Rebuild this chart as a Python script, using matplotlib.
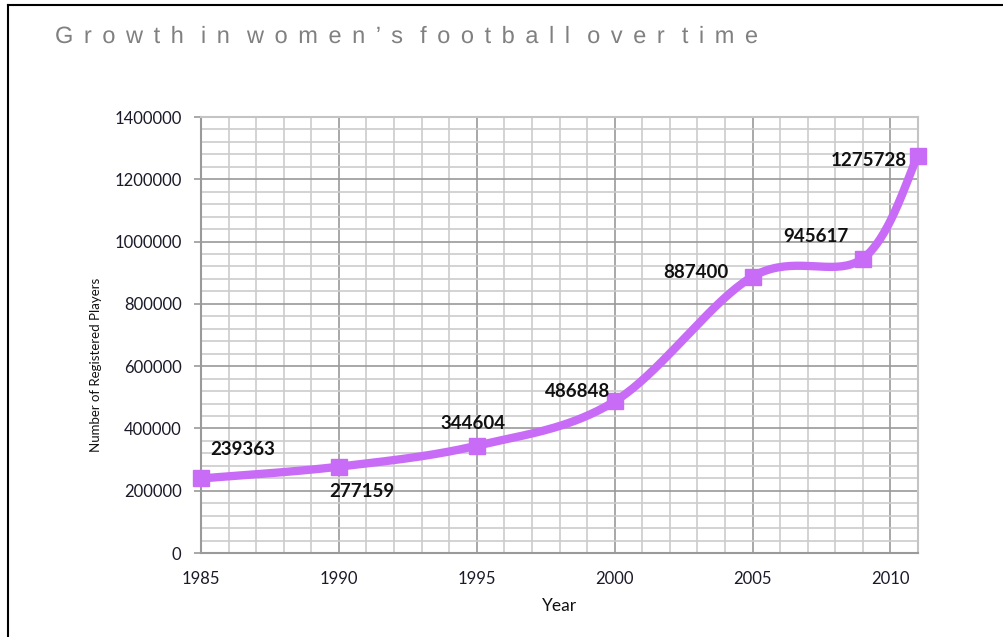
import numpy as np
import matplotlib
matplotlib.use("Agg")
import matplotlib.pyplot as plt
from matplotlib.patheffects import AbstractPathEffect
from matplotlib.path import Path
from matplotlib.transforms import IdentityTransform
from matplotlib.lines import Line2D
from matplotlib.ticker import MultipleLocator

# ---- data ----
years = [1985, 1990, 1995, 2000, 2005, 2009, 2011]
players = [239363, 277159, 344604, 486848, 887400, 945617, 1275728]
labels = ["239363", "277159", "344604", "486848", "887400", "945617", "1275728"]
title = "Growth in women\u2019s football over time"
xticks = [1985, 1990, 1995, 2000, 2005, 2010]
yticks = [0, 200000, 400000, 600000, 800000, 1000000, 1200000, 1400000]

# label offsets in pixels
label_offsets = [(42, 29), (23, -25), (-4, 22), (-37, 10), (-57, 4), (-47, 22), (-49, -5)]

LINE_COLOR = "#c86cf8"
FONT = ["Lato", "DejaVu Sans"]


def glyph_groups(verts, codes):
    starts = np.where(codes == Path.MOVETO)[0]
    ends = list(starts[1:]) + [len(codes)]
    subs = []
    for s, e in zip(starts, ends):
        seg = verts[s:e, 0]
        subs.append([seg.min(), seg.max(), s, e])
    subs.sort(key=lambda r: r[0])
    groups = []
    for r in subs:
        if groups and r[0] < groups[-1]["xmax"] - 0.5:
            groups[-1]["xmax"] = max(groups[-1]["xmax"], r[1])
            groups[-1]["idx"].append((r[2], r[3]))
        else:
            groups.append({"xmin": r[0], "xmax": r[1], "idx": [(r[2], r[3])]})
    return groups


class LetterSpacing(AbstractPathEffect):
    """Add constant horizontal spacing between glyphs."""
    def __init__(self, target_width):
        super().__init__()
        self.target_width = target_width

    def draw_path(self, renderer, gc, tpath, affine, rgbFace=None):
        p = affine.transform_path(tpath)
        verts = p.vertices.copy()
        codes = p.codes
        if codes is None or len(verts) == 0:
            renderer.draw_path(gc, p, IdentityTransform(), rgbFace)
            return
        groups = glyph_groups(verts, codes)
        w = groups[-1]["xmax"] - groups[0]["xmin"]
        n = len(groups)
        s = (self.target_width - w) / max(n - 1, 1)
        for k, g in enumerate(groups):
            for a, b in g["idx"]:
                verts[a:b, 0] += k * s
        renderer.draw_path(gc, Path(verts, codes), IdentityTransform(), rgbFace)


def catmull_rom(xs, ys, n=40):
    pts = np.column_stack([xs, ys]).astype(float)
    P = np.vstack([pts[0], pts, pts[-1]])
    out = []
    for i in range(1, len(P) - 2):
        p0, p1, p2, p3 = P[i - 1], P[i], P[i + 1], P[i + 2]
        c1 = p1 + (p2 - p0) / 6.0
        c2 = p2 - (p3 - p1) / 6.0
        t = np.linspace(0, 1, n)[:, None]
        seg = ((1 - t) ** 3) * p1 + 3 * ((1 - t) ** 2) * t * c1 + 3 * (1 - t) * t ** 2 * c2 + t ** 3 * p2
        out.append(seg if i == 1 else seg[1:])
    out = np.vstack(out)
    return out[:, 0], out[:, 1]


fig = plt.figure(figsize=(10.04, 6.37), dpi=100)
fig.patch.set_facecolor("white")
ax = fig.add_axes([201 / 1004, 1 - 553 / 637, (918 - 201) / 1004, (553 - 117) / 637])

ax.set_xlim(1985, 2011)
ax.set_ylim(0, 1400000)

ax.xaxis.set_minor_locator(MultipleLocator(1))
ax.yaxis.set_minor_locator(MultipleLocator(40000))
ax.set_xticks(xticks)
ax.set_yticks(yticks)
ax.set_xticklabels([str(v) for v in xticks])
ax.set_yticklabels([str(v) for v in yticks])

ax.grid(which="minor", color="#cccccc", linewidth=1.2, zorder=0)
ax.grid(which="major", color="#9a9a9a", linewidth=1.2, zorder=0)
ax.set_axisbelow(True)
for sp in ax.spines.values():
    sp.set_color("#c4c4c4")
    sp.set_linewidth(1.5)
ax.spines["left"].set_color("#9a9a9a")
ax.spines["bottom"].set_color("#9a9a9a")

ax.tick_params(axis="x", which="both", length=0, pad=13, labelsize=12, labelcolor="#1a1a2a")
ax.tick_params(axis="y", which="major", length=5, width=1.2, color="#9a9a9a", direction="out",
               pad=9, labelsize=12, labelcolor="#1a1a2a")
ax.tick_params(axis="y", which="minor", length=0)
for lab in ax.get_xticklabels() + ax.get_yticklabels():
    lab.set_family(FONT)

sx, sy = catmull_rom(years, players)
ax.plot(sx, sy, color=LINE_COLOR, linewidth=6, solid_capstyle="round", zorder=3, clip_on=False)
ax.plot(years, players, linestyle="none", marker="s", markersize=11, color=LINE_COLOR,
        zorder=4, clip_on=False)

for x, y, lab, (dx, dy) in zip(years, players, labels, label_offsets):
    ax.annotate(lab, (x, y), xytext=(dx, dy), textcoords="offset pixels", ha="center", va="center",
                fontsize=13.5, fontweight="bold", family=FONT, color="#111111", zorder=5)

ax.set_ylabel("Number of Registered Players", family=FONT, fontsize=9.5, color="#111111")
ax.yaxis.set_label_coords((96 - 201) / 717, (553 - 365) / 436)
ax.yaxis.label.set_va("center")
ax.set_xlabel("Year", family=FONT, fontsize=12.5, color="#111111")
ax.xaxis.set_label_coords((559 - 201) / 717, (553 - 606) / 436)
ax.xaxis.label.set_va("center")

# title with letter spacing
t = fig.text(55 / 1004, 1 - 37 / 637, title, ha="left", va="center", fontsize=17,
             family=["Liberation Sans Narrow", "Liberation Sans", "DejaVu Sans"], color="#808080")
t.set_path_effects([LetterSpacing(757 - 55)])

# outer border (left and top)
fig.add_artist(Line2D([8 / 1004, 8 / 1004], [0, 1 - 5 / 637], transform=fig.transFigure,
                      color="black", linewidth=1.5))
fig.add_artist(Line2D([8 / 1004, 1], [1 - 5 / 637, 1 - 5 / 637], transform=fig.transFigure,
                      color="black", linewidth=1.5))

fig.savefig("out.png", dpi=100, facecolor="white")
